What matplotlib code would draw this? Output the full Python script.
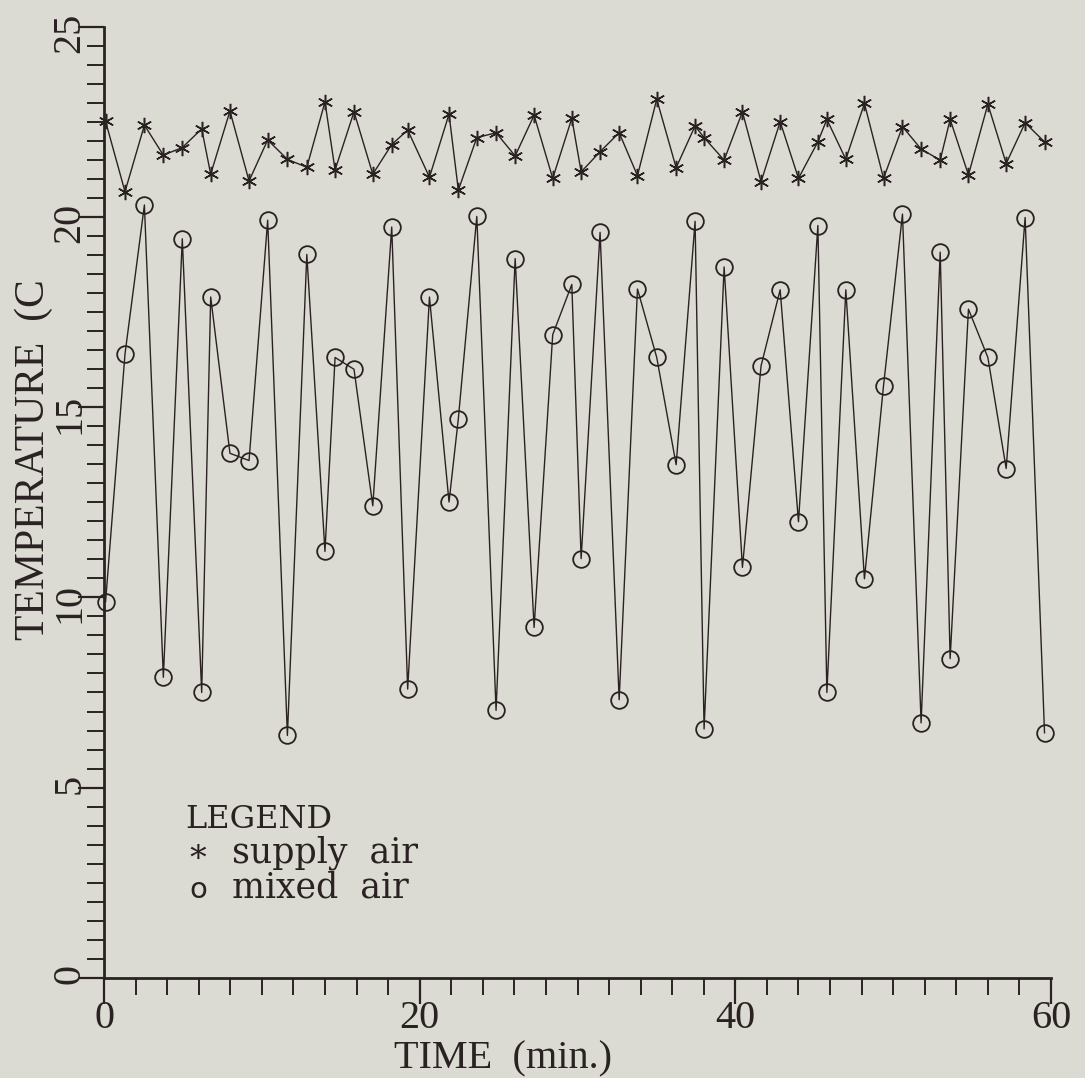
import matplotlib
matplotlib.use("Agg")
import matplotlib.pyplot as plt
import numpy as np

# время отсчётов (мин)
time_min = [0.1, 1.33, 2.56, 3.76, 4.96, 6.19, 6.76, 7.98, 9.19, 10.37,
            11.62, 12.85, 14.0, 14.64, 15.84, 17.03, 18.23, 19.24, 20.62, 21.86,
            22.45, 23.62, 24.84, 26.05, 27.25, 28.43, 29.64, 30.23, 31.43, 32.64,
            33.8, 35.02, 36.25, 37.45, 38.02, 39.29, 40.45, 41.63, 42.84, 44.0,
            45.23, 45.8, 47.0, 48.18, 49.39, 50.59, 51.77, 52.98, 53.61, 54.77,
            56.0, 57.16, 58.36, 59.59]

supply_air = [22.52, 20.67, 22.42, 21.63, 21.83, 22.32, 21.13, 22.79, 20.95, 22.03,
              21.52, 21.31, 23.03, 21.24, 22.77, 21.13, 21.91, 22.29, 21.05, 22.71,
              20.71, 22.09, 22.22, 21.61, 22.68, 21.02, 22.60, 21.19, 21.72, 22.22,
              21.09, 23.10, 21.30, 22.40, 22.09, 21.50, 22.77, 20.93, 22.51, 21.02,
              21.98, 22.57, 21.52, 22.99, 21.02, 22.38, 21.79, 21.50, 22.57, 21.11,
              22.97, 21.41, 22.48, 21.98]

mixed_air = [9.89, 16.40, 20.32, 7.90, 19.43, 7.50, 17.90, 13.79, 13.60, 19.92,
             6.37, 19.02, 11.21, 16.31, 16.00, 12.41, 19.74, 7.59, 17.90, 12.51,
             14.70, 20.02, 7.03, 18.91, 9.21, 16.91, 18.23, 11.02, 19.60, 7.31,
             18.11, 16.31, 13.49, 19.89, 6.54, 18.69, 10.79, 16.09, 18.09, 11.99,
             19.78, 7.50, 18.09, 10.49, 15.57, 20.08, 6.70, 19.08, 8.39, 17.58,
             16.31, 13.39, 19.99, 6.44]

x_major = [0, 20, 40, 60]
y_major = [0, 5, 10, 15, 20, 25]

W, H = 1085, 1078
bg = '#dcdbd3'
ink = '#2a2222'
serif = 'Liberation Serif'

fig = plt.figure(figsize=(W / 100, H / 100), dpi=100)
fig.patch.set_facecolor(bg)
ax = fig.add_axes([104 / W, 1 - 977.7 / H, (1051 - 104) / W, (977.7 - 27) / H])
ax.set_facecolor(bg)

ax.plot(time_min, supply_air, '-', color=ink, lw=1.0,
        marker=(6, 2, 0), ms=11, mew=1.1, clip_on=False)
ax.plot(time_min, mixed_air, '-', color=ink, lw=1.0,
        marker='o', ms=12, mfc='none', mec=ink, mew=1.3, clip_on=False)

ax.set_xlim(0, 60)
ax.set_ylim(0, 25)
for s in ['top', 'right']:
    ax.spines[s].set_visible(False)
for s in ['left', 'bottom']:
    ax.spines[s].set_linewidth(2)
    ax.spines[s].set_color(ink)

ax.set_xticks(x_major)
ax.set_xticks(np.arange(0, 61, 2), minor=True)
ax.set_yticks(y_major)
ax.set_yticks(np.arange(0, 25.1, 0.5), minor=True)
ax.tick_params(which='major', length=19, width=1.6, color=ink, direction='out')
ax.tick_params(which='minor', length=12, width=1.4, color=ink, direction='out')
ax.tick_params(axis='x', pad=-3)
ax.tick_params(axis='y', labelrotation=90, pad=-8)
for lab in ax.get_xticklabels() + ax.get_yticklabels():
    lab.set_fontfamily(serif)
    lab.set_fontsize(29)
    lab.set_color(ink)

fig.text(503 / W, 1 - 1068 / H, 'TIME  (min.)', ha='center', va='baseline',
         fontsize=29, family=serif, color=ink)
fig.text(34 / W, 1 - 460 / H, 'TEMPERATURE  (C', ha='center', va='center',
         rotation=90, fontsize=30, family=serif, color=ink)

# легенда текстом, как в оригинале
fig.text(185 / W, 1 - 828 / H, 'LEGEND', ha='left', va='baseline',
         fontsize=23, family='DejaVu Serif', color=ink)
fig.text(198 / W, 1 - 862 / H, '∗', ha='center', va='baseline',
         fontsize=24, family='DejaVu Serif', color=ink)
fig.text(232 / W, 1 - 862 / H, 'supply  air', ha='left', va='baseline',
         fontsize=25, family='DejaVu Serif', color=ink)
fig.text(198 / W, 1 - 898 / H, 'o', ha='center', va='baseline',
         fontsize=21, family='DejaVu Sans', color=ink)
fig.text(232 / W, 1 - 898 / H, 'mixed  air', ha='left', va='baseline',
         fontsize=25, family='DejaVu Serif', color=ink)

fig.savefig('out.png', dpi=100, facecolor=bg)
